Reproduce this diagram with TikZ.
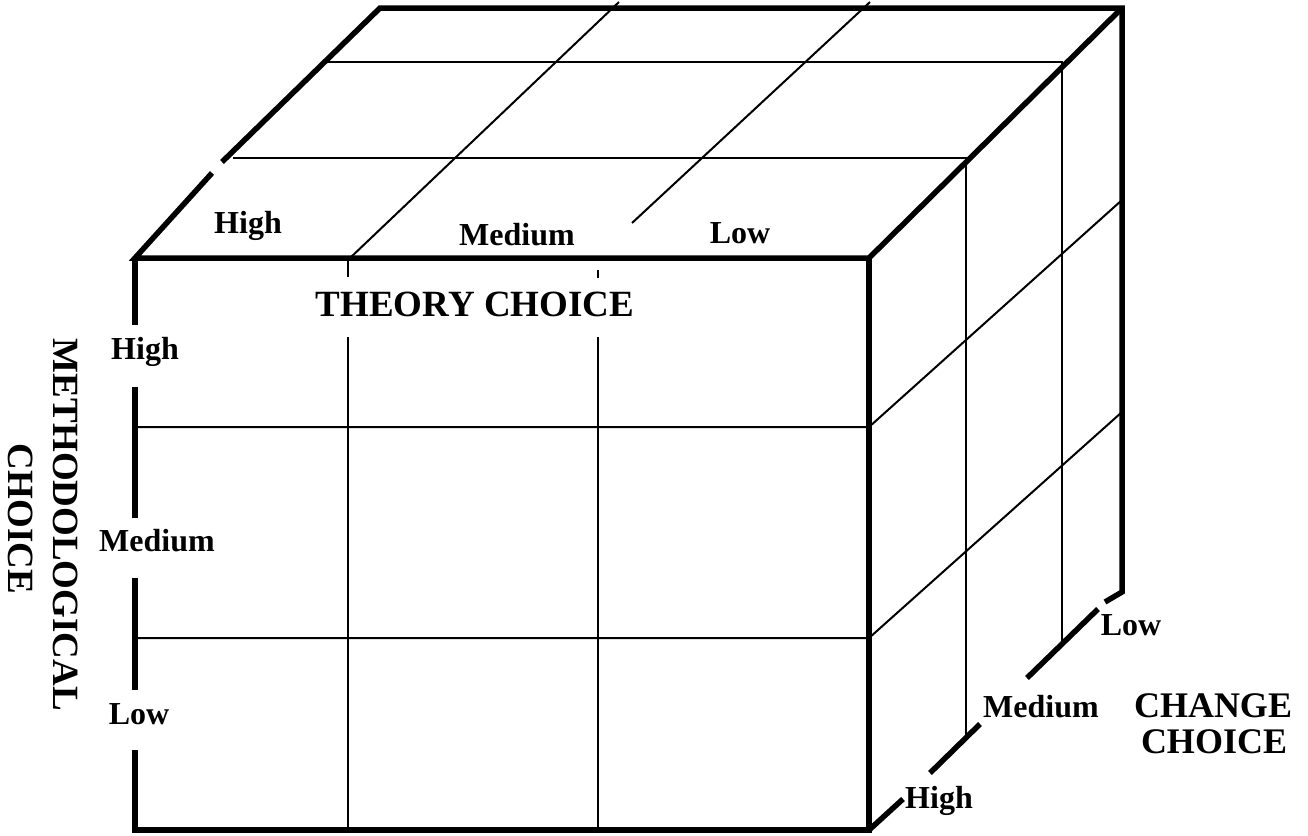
\documentclass[tikz,border=0pt]{standalone}
\usepackage{fontspec}
\setmainfont{Liberation Serif}
\tikzset{
  thickedge/.style={line width=5.5pt, line join=miter, line cap=butt},
  gridline/.style={line width=2pt, line cap=butt},
  smalllab/.style={font=\fontsize{32}{38}\selectfont\bfseries, anchor=base, inner sep=0pt},
  biglab/.style={font=\fontsize{36}{43}\selectfont\bfseries, anchor=base, inner sep=0pt},
  titlelab/.style={font=\fontsize{37}{44}\selectfont\bfseries, anchor=base, inner sep=0pt},
  sidelab/.style={font=\fontsize{37}{44}\selectfont\bfseries, rotate=-90, anchor=center, inner sep=0pt}
}
\begin{document}
\begin{tikzpicture}[x=1pt,y=-1pt]
\useasboundingbox (0,0) rectangle (1308,835);
% corner coordinates
\coordinate (ftl) at (135,258);
\coordinate (ftr) at (869,258);
\coordinate (fbl) at (135,830);
\coordinate (fbr) at (869,830);
\coordinate (btl) at (380,8);
\coordinate (btr) at (1122,8);
\coordinate (bbr) at (1122,592);
% thin grid lines: top face depth lines continuing down right face
\draw[gridline] (233,158) -- (966,158) -- (966,737);
\draw[gridline] (327,62) -- (1062,62) -- (1062,642);
% top face column lines
\draw[gridline] (350,258) -- (619,2);
\draw[gridline] (632,223) -- (870,2);
% front face verticals
\draw[gridline] (348,258) -- (348,277);
\draw[gridline] (348,337) -- (348,830);
\draw[gridline] (598,270) -- (598,278);
\draw[gridline] (598,337) -- (598,830);
% front face horizontals continuing on right face
\draw[gridline] (135,427) -- (869,427) -- (1122,200);
\draw[gridline] (135,638) -- (869,638) -- (1122,412);
% thick outline
\draw[thickedge] (222,162) -- (btl) -- (btr) -- (bbr) -- (1105,602);
\draw[thickedge] (212,173) -- (ftl) -- (ftr) -- (btr);
\draw[thickedge] (ftl) -- (135,325);
\draw[thickedge] (135,387) -- (135,518);
\draw[thickedge] (135,578) -- (135,690);
\draw[thickedge] (135,750) -- (fbl) -- (fbr) -- (ftr);
\draw[thickedge] (fbr) -- (903,799);
\draw[thickedge] (930,773) -- (980,724);
\draw[thickedge] (1027,678) -- (1098,609);
% top labels
\node[smalllab] (tHigh) at (248,233) {High};
\node[smalllab] (tMed) at (517,245) {Medium};
\node[smalllab] (tLow) at (740,243) {Low};
\node[titlelab] (theory) at (475,316) {THEORY CHOICE};
% left labels
\node[smalllab] (lHigh) at (145,359) {High};
\node[smalllab] (lMed) at (157,551) {Medium};
\node[smalllab] (lLow) at (139,724) {Low};
\node[sidelab] (meth1) at (66,525) {METHODOLOGICAL};
\node[sidelab] (meth2) at (21,519) {CHOICE};
% right labels
\node[smalllab] (rLow) at (1131,635) {Low};
\node[smalllab] (rMed) at (1041,717) {Medium};
\node[smalllab] (rHigh) at (939,808) {High};
\node[biglab] (chg1) at (1213,717) {CHANGE};
\node[biglab] (chg2) at (1214,753) {CHOICE};
\end{tikzpicture}
\end{document}
